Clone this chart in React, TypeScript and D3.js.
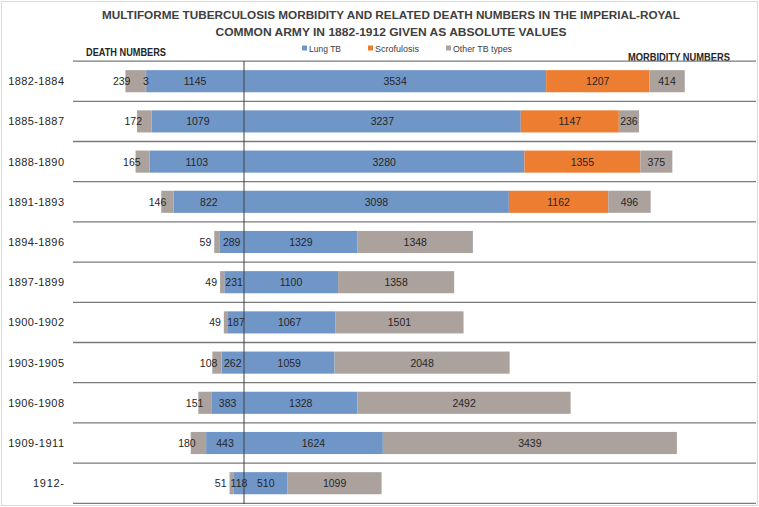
import React from "react";
import * as d3 from "d3";

// periods (rows, top to bottom)
const periods = [
  "1882-1884", "1885-1887", "1888-1890", "1891-1893", "1894-1896", "1897-1899",
  "1900-1902", "1903-1905", "1906-1908", "1909-1911", "1912-",
];

// death numbers (drawn to the left of the axis)
const deathLung = [1145, 1079, 1103, 822, 289, 231, 187, 262, 383, 443, 118];
const deathScrof = [3, 0, 0, 0, 0, 0, 0, 0, 0, 0, 0];
const deathOther = [239, 172, 165, 146, 59, 49, 49, 108, 151, 180, 51];

// morbidity numbers (drawn to the right of the axis)
const morbLung = [3534, 3237, 3280, 3098, 1329, 1100, 1067, 1059, 1328, 1624, 510];
const morbScrof = [1207, 1147, 1355, 1162, 0, 0, 0, 0, 0, 0, 0];
const morbOther = [414, 236, 375, 496, 1348, 1358, 1501, 2048, 2492, 3439, 1099];

const keys = ["lung", "scrof", "other"];
const legendNames = ["Lung TB", "Scrofulosis", "Other TB types"];
const colors = ["#7096c8", "#ed7d31", "#aba29d"];

const W = 759;
const H = 507;
const FONT = "'Liberation Sans', Arial, sans-serif";

const App = () => {
  const deaths = periods.map((p, i) => ({ period: p, lung: deathLung[i], scrof: deathScrof[i], other: deathOther[i] }));
  const morb = periods.map((p, i) => ({ period: p, lung: morbLung[i], scrof: morbScrof[i], other: morbOther[i] }));

  const stack = d3.stack<any>().keys(keys);
  const deathSeries = stack(deaths);
  const morbSeries = stack(morb);

  // 0 sits on the vertical axis; deaths mirrored to the left
  const x = d3.scaleLinear().domain([-2000, 6000]).range([73, 757]);
  const y = d3.scaleBand().domain(periods).range([61.1, 503.3]).paddingInner(0.45).paddingOuter(0.225);
  const bh = y.bandwidth();
  const step = y.step();

  const valFont = 10.5;

  return (
    <svg width={W} height={H} style={{ display: "block", position: "absolute", left: 0, top: 0 }} fontFamily={FONT}>
      <rect x={1.5} y={1.5} width={W - 3} height={H - 3} fill="#fff" stroke="#d9d9d9" />

      {/* title */}
      <text x={391} y={19} textAnchor="middle" fontSize={11} fontWeight="bold" fill="#404040"
        textLength={578} lengthAdjust="spacingAndGlyphs">
        MULTIFORME TUBERCULOSIS MORBIDITY AND RELATED DEATH NUMBERS IN THE IMPERIAL-ROYAL
      </text>
      <text x={391} y={36} textAnchor="middle" fontSize={11} fontWeight="bold" fill="#404040"
        textLength={351} lengthAdjust="spacingAndGlyphs">
        COMMON ARMY IN 1882-1912 GIVEN AS ABSOLUTE VALUES
      </text>

      {/* legend */}
      {[302, 368, 446].map((lx, i) => (
        <g key={i}>
          <rect x={lx} y={45.5} width={5} height={5} fill={colors[i]} />
          <text x={lx + 7} y={51.5} fontSize={9.5} fill="#404040"
            textLength={[32, 44, 59][i]} lengthAdjust="spacingAndGlyphs">{legendNames[i]}</text>
        </g>
      ))}

      <text x={86} y={56} fontSize={10} fontWeight="bold" fill="#262626" textLength={80} lengthAdjust="spacingAndGlyphs">
        DEATH NUMBERS
      </text>
      <text x={628} y={60.5} fontSize={10} fontWeight="bold" fill="#262626" textLength={102} lengthAdjust="spacingAndGlyphs">
        MORBIDITY NUMBERS
      </text>

      {/* row separators */}
      {d3.range(periods.length + 1).map((i) => (
        <line key={i} x1={73} x2={756} y1={61.1 + i * step} y2={61.1 + i * step} stroke="#7a7a7a" strokeWidth={1.3} />
      ))}

      {/* row labels */}
      {periods.map((p) => (
        <text key={p} x={64} y={(y(p) as number) + bh / 2 + 4} textAnchor="end" fontSize={11} fill="#262626"
          textLength={p.length * 6.2} lengthAdjust="spacing">{p}</text>
      ))}

      {/* death bars */}
      {deathSeries.map((s, k) => (
        <g key={"d" + k} fill={colors[k]}>
          {s.map((d) => (
            <rect key={d.data.period} x={x(-d[1])} y={y(d.data.period)} width={x(-d[0]) - x(-d[1])} height={bh} />
          ))}
        </g>
      ))}

      {/* morbidity bars */}
      {morbSeries.map((s, k) => (
        <g key={"m" + k} fill={colors[k]}>
          {s.map((d) => (
            <rect key={d.data.period} x={x(d[0])} y={y(d.data.period)} width={x(d[1]) - x(d[0])} height={bh} />
          ))}
        </g>
      ))}

      {/* death labels */}
      {deathSeries.map((s, k) =>
        s.map((d) => {
          const v = d[1] - d[0];
          if (!v) return null;
          const label = String(v);
          const cy = (y(d.data.period) as number) + bh / 2 + 4;
          const left = x(-d[1]);
          const right = x(-d[0]);
          let tx = (left + right) / 2;
          let anchor = "middle";
          if (keys[k] === "other") {
            anchor = "end";
            tx = right - left < 6 ? left - 3 : left + 5;
          }
          return (
            <text key={"dl" + k + d.data.period} x={tx} y={cy} textAnchor={anchor} fontSize={valFont} fill="#262626">{label}</text>
          );
        })
      )}

      {/* morbidity labels */}
      {morbSeries.map((s, k) =>
        s.map((d) => {
          const v = d[1] - d[0];
          if (!v) return null;
          return (
            <text key={"ml" + k + d.data.period} x={(x(d[0]) + x(d[1])) / 2} y={(y(d.data.period) as number) + bh / 2 + 4}
              textAnchor="middle" fontSize={valFont} fill="#262626">{v}</text>
          );
        })
      )}

      {/* zero axis */}
      <line x1={x(0)} x2={x(0)} y1={61} y2={504} stroke="#404040" strokeWidth={1} />
    </svg>
  );
};

export default App;
